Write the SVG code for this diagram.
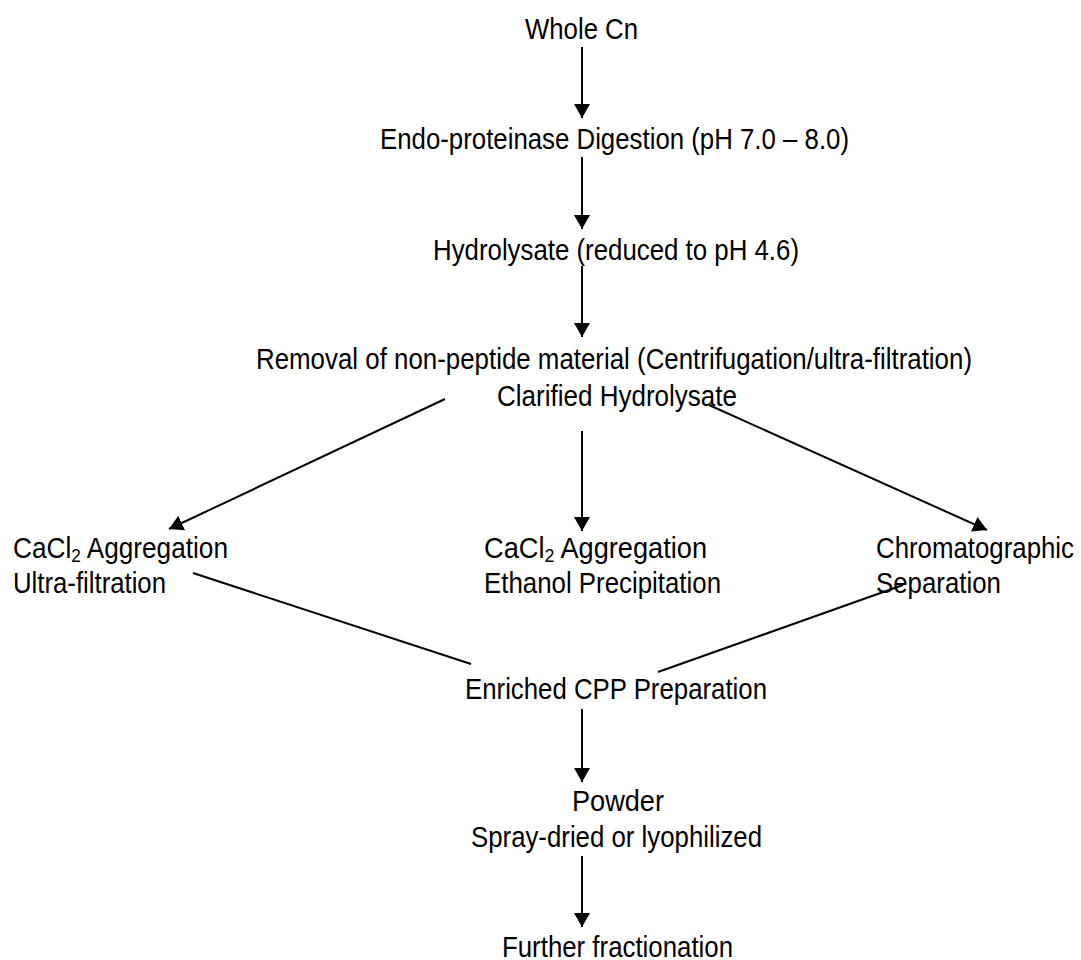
<svg xmlns="http://www.w3.org/2000/svg" width="1081" height="960" viewBox="0 0 1081 960">
<style>
text{font-family:"Liberation Sans",Arial,sans-serif;font-size:29px;fill:#000}
.c{stroke:#000;stroke-width:2;fill:none}
.sub{font-size:19px}
</style>
<defs>
<marker id="ah" viewBox="0 0 14 16" refX="14" refY="8" markerWidth="14" markerHeight="16" markerUnits="userSpaceOnUse" orient="auto">
<path d="M0,0 L14,8 L0,16 Z" fill="#000"/>
</marker>
</defs>
<rect width="1081" height="960" fill="#fff"/>
<g id="connectors">
<line class="c" x1="582" y1="47" x2="582" y2="118" marker-end="url(#ah)"/>
<line class="c" x1="582" y1="157" x2="582" y2="229" marker-end="url(#ah)"/>
<line class="c" x1="582" y1="266" x2="582" y2="337" marker-end="url(#ah)"/>
<line class="c" x1="445" y1="399" x2="169" y2="529" marker-end="url(#ah)"/>
<line class="c" x1="582" y1="431" x2="582" y2="531" marker-end="url(#ah)"/>
<line class="c" x1="709" y1="405" x2="987" y2="530" marker-end="url(#ah)"/>
<line class="c" x1="193" y1="573" x2="471" y2="664"/>
<line class="c" x1="903" y1="585" x2="658" y2="672"/>
<line class="c" x1="582" y1="709" x2="582" y2="782" marker-end="url(#ah)"/>
<line class="c" x1="582" y1="856" x2="582" y2="927" marker-end="url(#ah)"/>
</g>
<g id="n-whole"><text x="525" y="39" textLength="113" lengthAdjust="spacingAndGlyphs">Whole Cn</text></g>
<g id="n-endo"><text x="380" y="149" textLength="469" lengthAdjust="spacingAndGlyphs">Endo-proteinase Digestion (pH 7.0 – 8.0)</text></g>
<g id="n-hydro"><text x="433" y="260" textLength="366" lengthAdjust="spacingAndGlyphs">Hydrolysate (reduced to pH 4.6)</text></g>
<g id="n-removal">
<text x="256" y="369" textLength="716" lengthAdjust="spacingAndGlyphs">Removal of non-peptide material (Centrifugation/ultra-filtration)</text>
<text x="497" y="406" textLength="240" lengthAdjust="spacingAndGlyphs">Clarified Hydrolysate</text>
</g>
<g id="n-left">
<text x="13" y="558" textLength="215" lengthAdjust="spacingAndGlyphs">CaCl<tspan class="sub" dy="4">2</tspan><tspan dy="-4"> Aggregation</tspan></text>
<text x="13" y="593" textLength="153" lengthAdjust="spacingAndGlyphs">Ultra-filtration</text>
</g>
<g id="n-center">
<text x="484" y="558" textLength="223" lengthAdjust="spacingAndGlyphs">CaCl<tspan class="sub" dy="4">2</tspan><tspan dy="-4"> Aggregation</tspan></text>
<text x="484" y="593" textLength="237" lengthAdjust="spacingAndGlyphs">Ethanol Precipitation</text>
</g>
<g id="n-right">
<text x="876" y="558" textLength="198" lengthAdjust="spacingAndGlyphs">Chromatographic</text>
<text x="876" y="593" textLength="125" lengthAdjust="spacingAndGlyphs">Separation</text>
</g>
<g id="n-enriched"><text x="465" y="699" textLength="302" lengthAdjust="spacingAndGlyphs">Enriched CPP Preparation</text></g>
<g id="n-powder">
<text x="572" y="811" textLength="92" lengthAdjust="spacingAndGlyphs">Powder</text>
<text x="471" y="847" textLength="291" lengthAdjust="spacingAndGlyphs">Spray-dried or lyophilized</text>
</g>
<g id="n-further"><text x="502" y="957" textLength="231" lengthAdjust="spacingAndGlyphs">Further fractionation</text></g>
</svg>
